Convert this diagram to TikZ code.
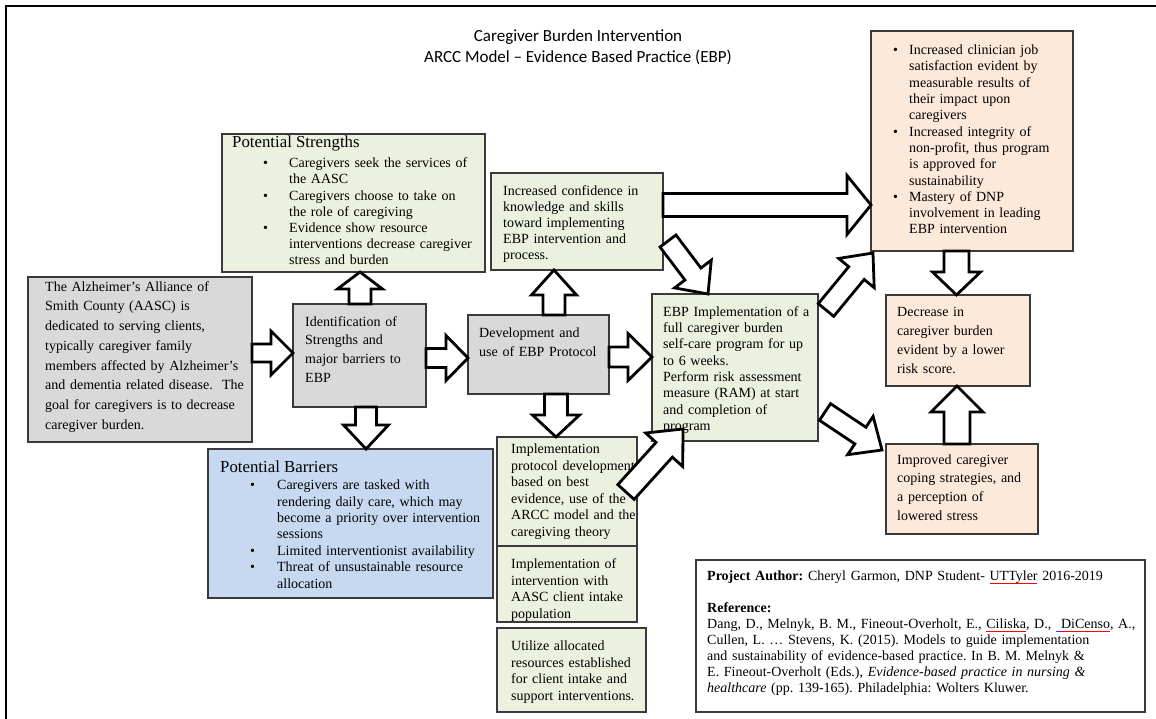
\documentclass[tikz,border=0pt]{standalone}
\usepackage{fontspec}
\setmainfont{Liberation Serif}
\newfontfamily\titlefont{Carlito}
\usetikzlibrary{calc}

\definecolor{boxgreen}{HTML}{EBF1DE}
\definecolor{boxgray}{HTML}{D9D9D9}
\definecolor{boxblue}{HTML}{C6D9F1}
\definecolor{boxpeach}{HTML}{FDE9D9}
\definecolor{boxline}{HTML}{3A3A3A}

% spell-check style red dotted wave under a word
\newcommand\spellmark[1]{%
  \setbox0\hbox{#1}%
  \rlap{\raisebox{-3.2pt}{\color{red}\leaders\hbox{\rule{0.9pt}{0.55pt}\rule[0.7pt]{0.9pt}{0.55pt}}\hskip\wd0}}#1}

% strut fixing the height of a text block's first line
\newcommand\topline{\rule{0pt}{11pt}}

% bulleted paragraph: #1 left indent of the text, #2 bullet-to-text gap
\newcommand\bitem[3]{\leftskip=#1pt\noindent\llap{\makebox[#2pt][l]{\textbullet}}#3\par}

% hollow block arrow from #1 (tail) to #2 (tip);
% #3 shaft half-width, #4 head half-width, #5 head length
\newcommand\blockarrow[5]{%
  \path (#1); \pgfgetlastxy{\baTx}{\baTy}%
  \path (#2); \pgfgetlastxy{\baHx}{\baHy}%
  \pgfmathsetmacro\baAng{atan2(\baHy-\baTy,\baHx-\baTx)}%
  \pgfmathsetmacro\baLen{veclen(\baHx-\baTx,\baHy-\baTy)}%
  \draw[barrow, shift={(\baTx,\baTy)}, rotate=\baAng]
    (0pt,#3pt) -- ({\baLen pt-#5pt},#3pt) -- ({\baLen pt-#5pt},#4pt)
    -- (\baLen pt,0pt) -- ({\baLen pt-#5pt},-#4pt) -- ({\baLen pt-#5pt},-#3pt)
    -- (0pt,-#3pt) -- cycle;
}

\begin{document}
\frenchspacing
\begin{tikzpicture}[
  x=1pt, y=-1pt,
  panel/.style={draw=boxline, line width=1.2pt, anchor=north west, inner sep=0pt, outer sep=0pt},
  body/.style={anchor=north west, inner sep=0pt, align=left, text width=#1pt},
  body/.default=200,
  head/.style={anchor=base west, inner sep=0pt, font=\fontsize{16.8}{20}\selectfont},
  ttl/.style={anchor=base, inner sep=0pt, font=\titlefont\fontsize{17}{20}\selectfont},
  barrow/.style={draw=black, fill=white, line width=2.8pt, line join=miter},
]
\useasboundingbox (0,0) rectangle (1156,719);

% page frame
\draw[line width=1.8pt] (6,719) -- (6,6) -- (1156,6);

% title
\node[ttl] (title1) at (578,42) {Caregiver Burden Intervention};
\node[ttl] (title2) at (578,63) {ARCC Model – Evidence Based Practice (EBP)};

% panels
\node[panel, fill=boxgreen, minimum width=263pt, minimum height=138pt] (strengths) at (222,134) {};
\node[panel, fill=boxgray,  minimum width=224pt, minimum height=165pt] (lbox) at (28,277) {};
\node[panel, fill=boxgray,  minimum width=133pt, minimum height=103pt] (ident) at (293,304) {};
\node[panel, fill=boxgray,  minimum width=141pt, minimum height=79pt]  (dev) at (468,315) {};
\node[panel, fill=boxgreen, minimum width=172pt, minimum height=97pt]  (conf) at (491,173) {};
\node[panel, fill=boxpeach, minimum width=202pt, minimum height=220pt] (topright) at (871,31) {};
\node[panel, fill=boxpeach, minimum width=144pt, minimum height=91pt]  (decrease) at (886,295) {};
\node[panel, fill=boxpeach, minimum width=152pt, minimum height=90pt]  (improved) at (886,444) {};
\node[panel, fill=boxgreen, minimum width=166pt, minimum height=147pt] (ebp) at (652,294) {};
\node[panel, fill=boxblue,  minimum width=285pt, minimum height=149pt] (barriers) at (208,449) {};
\node[panel, fill=boxgreen, minimum width=140pt, minimum height=109pt] (impl1) at (497,437) {};
\node[panel, fill=boxgreen, minimum width=140pt, minimum height=76pt]  (impl2) at (497,546) {};
\node[panel, fill=boxgreen, minimum width=149pt, minimum height=84pt]  (impl3) at (497,628) {};
\node[panel, fill=white,    minimum width=449pt, minimum height=152pt] (author) at (696,560) {};

% panel texts
\node[head] (strengthsHead) at (232,148) {Potential Strengths};
\node[body=250, font=\fontsize{14}{16.2}\selectfont] (strengthsText) at (232,156.5) {%
  \bitem{57}{26}{\topline Caregivers seek the services of\\the AASC}%
  \bitem{57}{26}{Caregivers choose to take on\\the role of caregiving}%
  \bitem{57}{26}{Evidence show resource\\interventions decrease caregiver\\stress and burden}};

\node[body=215, font=\fontsize{14}{19.7}\selectfont] (lboxText) at (45,280) {\topline The Alzheimer’s Alliance of\\
  Smith County (AASC) is\\dedicated to serving clients,\\typically caregiver family\\
  members affected by Alzheimer’s\\and dementia related disease.\ \ The\\
  goal for caregivers is to decrease\\caregiver burden.};

\node[body=125, font=\fontsize{14}{18.7}\selectfont] (identText) at (305,315) {\topline Identification of\\
  Strengths and\\major barriers to\\EBP};

\node[body=135, font=\fontsize{14}{19}\selectfont] (devText) at (479,326) {\topline Development and\\use of EBP Protocol};

\node[body=165, font=\fontsize{14}{16.2}\selectfont] (confText) at (503,184) {\topline Increased confidence in\\
  knowledge and skills\\toward implementing\\EBP intervention and\\process.};

\node[body=195, font=\fontsize{14}{16.3}\selectfont] (toprightText) at (881,43.5) {%
  \bitem{28}{16}{\topline Increased clinician job\\satisfaction evident by\\measurable results of\\their impact upon\\caregivers}%
  \bitem{28}{16}{Increased integrity of\\non-profit, thus program\\is approved for\\sustainability}%
  \bitem{28}{16}{Mastery of DNP\\involvement in leading\\EBP intervention}};

\node[body=140, font=\fontsize{14}{19}\selectfont] (decreaseText) at (897,305) {\topline Decrease in\\
  caregiver burden\\evident by a lower\\risk score.};

\node[body=145, font=\fontsize{14}{18.7}\selectfont] (improvedText) at (897,453) {\topline Improved caregiver\\
  coping strategies, and\\a perception of\\lowered stress};

\node[body=160, font=\fontsize{14}{16.3}\selectfont] (ebpText) at (663,305) {\topline EBP Implementation of a\\
  full caregiver burden\\self-care program for up\\to 6 weeks.\\Perform risk assessment\\
  measure (RAM) at start\\and completion of\\program};

\node[head] (barriersHead) at (220,472) {Potential Barriers};
\node[body=280, font=\fontsize{14}{16.4}\selectfont] (barriersText) at (220,478.5) {%
  \bitem{57}{27}{\topline Caregivers are tasked with\\rendering daily care, which may\\become a priority over intervention\\sessions}%
  \bitem{57}{27}{Limited interventionist availability}%
  \bitem{57}{27}{Threat of unsustainable resource\\allocation}};

\node[body=135, font=\fontsize{14}{16.5}\selectfont] (impl1Text) at (511,442.5) {\topline Implementation\\
  protocol development\\based on best\\evidence, use of the\\ARCC model and the\\caregiving theory};
\node[body=135, font=\fontsize{14}{16.5}\selectfont] (impl2Text) at (511,557.5) {\topline Implementation of\\
  intervention with\\AASC client intake\\population};
\node[body=140, font=\fontsize{14}{16.5}\selectfont] (impl3Text) at (511,639.5) {\topline Utilize allocated\\
  resources established\\for client intake and\\support interventions.};

\node[body=440, font=\fontsize{14}{16}\selectfont] (authorText) at (707,569.5) {%
  \topline\textbf{Project Author:} Cheryl Garmon, DNP Student- \spellmark{UTTyler} 2016-2019\par
  \mbox{}\par
  \textbf{Reference:}\par
  \hangindent=54pt\hangafter=1
  Dang, D., Melnyk, B. M., Fineout-Overholt, E., \spellmark{Ciliska}, D., \textcolor{blue!80}{\rule[-2.5pt]{5pt}{0.7pt}}\spellmark{DiCenso}, A.,\\
  Cullen, L. … Stevens, K. (2015). Models to guide implementation\\
  and sustainability of evidence-based practice. In B. M. Melnyk \&\\
  E. Fineout-Overholt (Eds.), \textit{Evidence-based practice in nursing \&}\\
  \textit{healthcare} (pp. 139-165). Philadelphia: Wolters Kluwer.\par};

% connection points of the slanted arrows
\coordinate (a9t)  at ($(conf.north east)+(5,68)$);
\coordinate (a9h)  at ($(ebp.north west)+(56,0)$);
\coordinate (a10t) at ($(impl1.north east)+(-11,55)$);
\coordinate (a10h) at ($(ebp.south west)+(31,-12)$);
\coordinate (a11t) at ($(ebp.east)+(8,-57.5)$);
\coordinate (a11h) at ($(topright.south west)+(2,2)$);
\coordinate (a12t) at ($(ebp.east)+(7,44.5)$);
\coordinate (a12h) at ($(improved.west)+(-4,-39)$);

% block arrows
\blockarrow{lbox.east |- 0,353}{ident.west |- 0,353}{9}{22}{22}
\blockarrow{ident.east |- 0,358}{dev.west |- 0,358}{9.5}{22.5}{22}
\blockarrow{dev.east |- 0,357}{ebp.west |- 0,357}{10}{23.5}{24}
\blockarrow{360,0 |- ident.north}{360,0 |- strengths.south}{11}{22.5}{17}
\blockarrow{366,0 |- ident.south}{366,0 |- barriers.north}{10.5}{22.5}{24}
\blockarrow{554,0 |- dev.north}{554,0 |- conf.south}{11}{22.5}{25}
\blockarrow{556,0 |- dev.south}{556,0 |- impl1.north}{11.5}{23.5}{22}
\blockarrow{conf.east |- 0,205}{topright.west |- 0,205}{11.5}{29.5}{24}
\blockarrow{a9t}{a9h}{10}{23}{25}
\blockarrow{a10t}{a10h}{11}{25}{28}
\blockarrow{a11t}{a11h}{10}{23}{26}
\blockarrow{a12t}{a12h}{10}{23}{26}
\blockarrow{956.5,0 |- topright.south}{956.5,0 |- decrease.north}{12.5}{24}{23}
\blockarrow{957,0 |- improved.north}{957,0 |- decrease.south}{13}{26}{26}
\end{tikzpicture}
\end{document}
